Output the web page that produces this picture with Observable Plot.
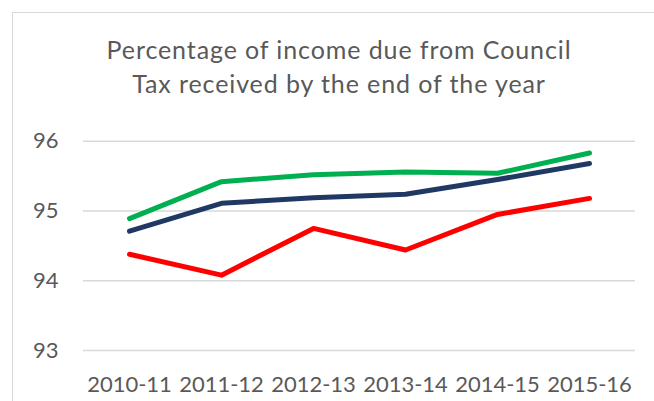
<!DOCTYPE html>
<html>
<head>
<meta charset="utf-8">
<script src="https://cdn.jsdelivr.net/npm/d3@7"></script>
<script src="https://cdn.jsdelivr.net/npm/@observablehq/plot@0.6"></script>
<style>
  html, body { margin: 0; padding: 0; background: #fff; }
  #wrap { position: relative; width: 654px; height: 401px; overflow: hidden; font-family: Lato, "Open Sans", sans-serif; }
  #frame { position: absolute; left: 12px; top: 12px; width: 700px; height: 450px; border-left: 1px solid #d9d9d9; border-top: 1px solid #d9d9d9; }
  #title { position: absolute; left: 12px; top: 32px; width: 654px; text-align: center; font-size: 25px; letter-spacing: 0.9px; line-height: 34px; color: #595959; }
  #chart { position: absolute; left: 0; top: 100px; }
</style>
</head>
<body>
<div id="wrap">
  <div id="frame"></div>
  <div id="title">Percentage of income due from Council<br>Tax received by the end of the year</div>
  <div id="chart"></div>
</div>
<script>
const years = ["2010-11", "2011-12", "2012-13", "2013-14", "2014-15", "2015-16"];
const seriesNames = ["Series A", "Series B", "Series C"];
const seriesColors = ["#00B050", "#203864", "#FF0000"];
const greenValues = [94.89, 95.42, 95.52, 95.56, 95.54, 95.83];
const navyValues = [94.71, 95.11, 95.19, 95.24, 95.45, 95.68];
const redValues = [94.38, 94.08, 94.75, 94.44, 94.95, 95.18];
const yTicks = [93, 94, 95, 96];

const allSeries = [greenValues, navyValues, redValues];
const data = [];
allSeries.forEach((vals, i) => {
  vals.forEach((v, j) => data.push({ year: years[j], value: v, series: seriesNames[i] }));
});

const plot = Plot.plot({
  width: 654,
  height: 301,
  marginLeft: 83,
  marginRight: 19,
  marginTop: 40.7,
  marginBottom: 51,
  style: { fontFamily: "Lato, 'Open Sans', sans-serif", color: "#595959", background: "transparent" },
  x: { type: "point", domain: years, padding: 0.5, label: null },
  y: { domain: [93, 96], nice: false, label: null },
  color: { domain: seriesNames, range: seriesColors },
  marks: [
    Plot.ruleY(yTicks, { stroke: "#d9d9d9", strokeWidth: 1.5 }),
    Plot.axisY({ ticks: yTicks, tickFormat: d => String(d), tickSize: 0, tickPadding: 25, fontSize: 22, label: null, fill: "#595959" }),
    Plot.axisX({ tickSize: 0, tickPadding: 26, fontSize: 22, label: null, fill: "#595959" }),
    Plot.line(data, { x: "year", y: "value", z: "series", stroke: "series", strokeWidth: 5, strokeLinecap: "round", strokeLinejoin: "round" })
  ]
});
document.getElementById("chart").appendChild(plot);
</script>
</body>
</html>
